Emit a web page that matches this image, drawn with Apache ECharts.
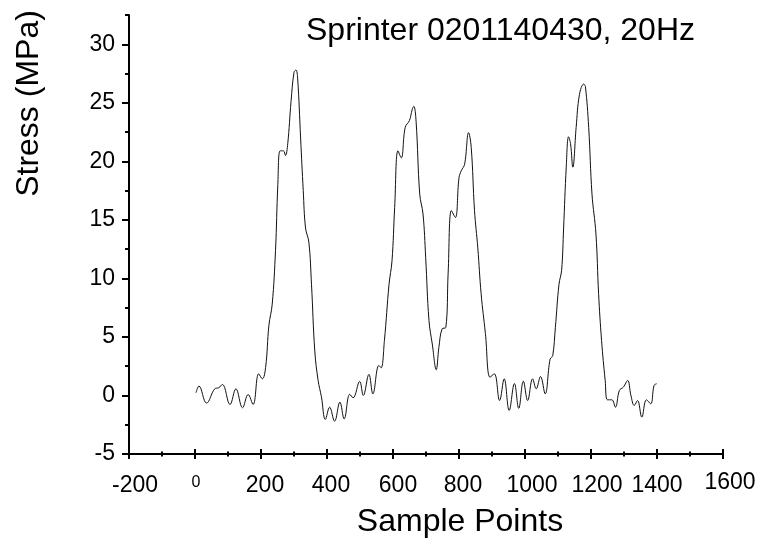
<!DOCTYPE html>
<html>
<head>
<meta charset="utf-8">
<script src="https://cdn.jsdelivr.net/npm/echarts@6/dist/echarts.min.js"></script>
<style>
html,body{margin:0;padding:0;background:#fff;}
#chart{width:763px;height:547px;}
</style>
</head>
<body>
<div id="chart"></div>
<script>
// ---- data ----
const titleText = "Sprinter 0201140430, 20Hz";
const xAxisTitle = "Sample Points";
const yAxisTitle = "Stress (MPa)";
const xTickValues = [-200, 0, 200, 400, 600, 800, 1000, 1200, 1400, 1600];
const yTickValues = [-5, 0, 5, 10, 15, 20, 25, 30];
const samplePoints = [3, 12, 35, 60, 72, 83, 106, 124, 144, 161, 176, 193, 204, 214, 224, 234, 244, 251, 258, 268, 274, 281, 291, 300, 306, 311, 320, 328, 335, 345, 353, 363, 373, 383, 395, 408, 423, 439, 452, 469, 479, 499, 510, 527, 539, 557, 564, 574, 588, 597, 605, 615, 625, 637, 650, 658, 663, 670, 681, 691, 699, 709, 719, 731, 739, 749, 760, 767, 777, 789, 800, 807, 817, 829, 837, 847, 857, 867, 880, 894, 907, 923, 937, 952, 968, 981, 995, 1008, 1023, 1034, 1047, 1061, 1076, 1084, 1092, 1103, 1111, 1117, 1125, 1132, 1138, 1145, 1155, 1165, 1178, 1183, 1193, 1203, 1215, 1223, 1232, 1243, 1250, 1263, 1274, 1286, 1298, 1311, 1321, 1331, 1341, 1354, 1368, 1381, 1391, 1399];
const stressMPa = [0.23, 0.8, -0.65, 0.57, 0.66, 0.94, -0.77, 0.57, -1.05, 0.08, -0.77, 1.85, 1.42, 2.4, 6.0, 7.8, 12.4, 18.0, 20.9, 20.9, 20.5, 21.5, 25.1, 27.6, 27.8, 27.1, 22.0, 17.5, 14.3, 13.1, 9.5, 3.8, 1.3, -0.1, -2.05, -1.0, -2.2, -0.57, -2.0, 0.1, -0.2, 1.2, 0, 1.8, 0.14, 2.56, 2.36, 4.7, 9.5, 11.5, 16.05, 20.9, 20.3, 22.9, 23.5, 24.4, 24.7, 23.4, 17.2, 15.5, 11.8, 6.4, 4.4, 2.2, 4.1, 5.7, 5.8, 10.4, 15.8, 15.2, 18.6, 19.2, 19.75, 22.45, 21.2, 15.8, 12.6, 8.7, 5.3, 1.56, 1.85, -0.43, 1.42, -1.28, 1.02, -1.1, 1.22, -0.43, 1.42, 0.57, 1.62, 0.14, 3.1, 3.4, 5.8, 9.5, 10.7, 14.3, 19.5, 22.1, 21.5, 19.5, 22.9, 25.7, 26.6, 26.4, 22.9, 17.2, 13.8, 8.7, 4.7, 1.28, -0.37, -0.37, -1.0, 0.43, 0.71, 1.28, 0, -0.85, -0.43, -1.85, -0.37, -0.71, 0.85, 1.0];

// ---- chart ----
const seriesData = samplePoints.map((x, i) => [x, stressMPa[i]]);
const FONT = "'Liberation Sans', Arial, sans-serif";
const LABEL_SIZE = 23;
// horizontal nudge (px) of each x tick label, in the same order as xTickValues
const labelShift = [6, 1, 4, 4, 5, 4, 7, 6, 0, 7];
const rich = {};
labelShift.forEach((s, i) => {
  rich['l' + i] = {fontSize: LABEL_SIZE, fontFamily: FONT, color: '#000', padding: [0, 0, 0, s * 2]};
});
rich['l1'] = {fontSize: 16, fontFamily: FONT, color: '#000', padding: [1, 0, 0, 2]};
rich['l9'] = {fontSize: LABEL_SIZE, fontFamily: FONT, color: '#000', lineHeight: 17, padding: [0, 0, 0, 14]};

const xMin = xTickValues[0], xMax = xTickValues[xTickValues.length - 1];
const baseX = {
  type: 'value', min: xMin, max: xMax, interval: 200, position: 'bottom',
  splitLine: {show: false},
  axisLine: {show: true, onZero: false, lineStyle: {color: '#000', width: 2}},
};
const chart = echarts.init(document.getElementById('chart'), null, {renderer: 'canvas'});
chart.setOption({
  animation: false,
  backgroundColor: '#fff',
  title: {
    text: titleText, left: 306, top: 15, padding: 0,
    textStyle: {fontFamily: FONT, fontSize: 32, fontWeight: 'normal', color: '#000'}
  },
  grid: {left: 129, right: 40, top: 15, bottom: 93, containLabel: false},
  xAxis: [
    Object.assign({}, baseX, {
      name: xAxisTitle, nameLocation: 'middle', nameGap: 52,
      nameTextStyle: {fontFamily: FONT, fontSize: 32, color: '#000', padding: [0, 0, 0, 68]},
      axisTick: {show: true, inside: false, length: 5, lineStyle: {color: '#000', width: 2}},
      minorTick: {show: true, splitNumber: 2, length: 2.5, lineStyle: {color: '#000', width: 2}},
      axisLabel: {
        margin: 20, fontSize: LABEL_SIZE, fontFamily: FONT, color: '#000',
        formatter: function (v) {
          const idx = xTickValues.indexOf(v);
          if (idx < 0) return '';
          return '{l' + idx + '|' + v + '}';
        },
        rich: rich
      }
    }),
    Object.assign({}, baseX, {
      axisTick: {show: true, inside: true, length: 5, lineStyle: {color: '#000', width: 2}},
      minorTick: {show: true, splitNumber: 2, length: 2.5, lineStyle: {color: '#000', width: 2}},
      axisLabel: {show: false}
    })
  ],
  yAxis: [
    {
      type: 'value', min: -5, max: 32.5, interval: 2.5, position: 'left',
      name: yAxisTitle, nameLocation: 'middle', nameGap: 84, nameRotate: 90,
      nameTextStyle: {fontFamily: FONT, fontSize: 32, color: '#000', padding: [0, 0, 0, 262]},
      splitLine: {show: false},
      axisLine: {show: true, onZero: false, lineStyle: {color: '#000', width: 2}},
      axisTick: {show: true, length: 4, lineStyle: {color: '#000', width: 2}},
      axisLabel: {
        margin: 14, fontSize: LABEL_SIZE, fontFamily: FONT, color: '#000',
        padding: [4, 0, 0, 0],
        formatter: function (v) { return yTickValues.indexOf(v) >= 0 ? String(v) : ''; }
      }
    },
    {
      type: 'value', min: -5, max: 32.5, interval: 5, position: 'left',
      splitLine: {show: false},
      axisLine: {show: false, onZero: false},
      axisTick: {show: true, length: 7, customValues: yTickValues, lineStyle: {color: '#000', width: 2}},
      axisLabel: {show: false}
    }
  ],
  series: [{
    type: 'line',
    xAxisIndex: 0, yAxisIndex: 0,
    data: seriesData,
    smooth: 0.4,
    showSymbol: false,
    symbol: 'none',
    lineStyle: {color: '#111', width: 1},
    silent: true
  }]
});
</script>
</body>
</html>
